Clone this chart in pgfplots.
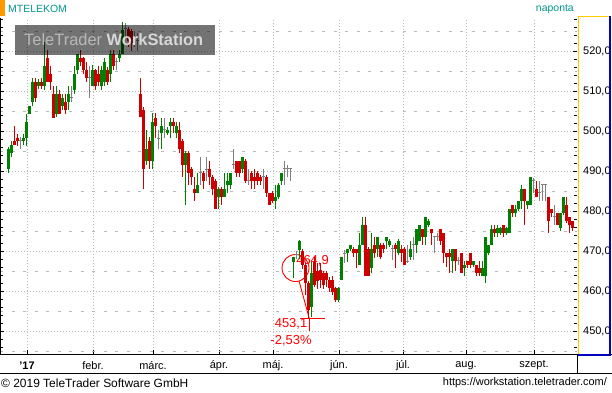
\documentclass[border=0pt]{standalone}
\usepackage{fontspec}
\setmainfont{Liberation Sans}
\usepackage{pgfplots}
\usepackage{pgfplotstable}
\pgfplotsset{compat=1.18}
\definecolor{cgreen}{RGB}{0,128,0}
\definecolor{cred}{RGB}{204,0,0}
\definecolor{cgray}{RGB}{128,128,128}
\definecolor{cteal}{RGB}{0,150,140}
\definecolor{corange}{RGB}{255,153,0}
\definecolor{cyellow}{RGB}{255,204,0}
\definecolor{cblue}{RGB}{0,0,192}
\definecolor{cgrid}{RGB}{185,185,185}
\definecolor{cannot}{RGB}{255,0,0}

% green candles: index open high low close
\pgfplotstableread{
i o h l c
1 490.4 496.1 489.6 495.5
2 494.6 497.5 493.6 496.5
6 497.5 499.25 496.5 498.2
7 498.2 504.25 496.25 502.25
8 504.25 506.25 504.25 506.25
9 507.25 513.25 506.25 512.25
11 511.25 513 510.5 512.25
13 511.25 522.25 510.25 516.25
17 504.25 511.25 503.5 509.25
19 506.25 509.25 505.25 508.25
21 507.25 511.25 505.25 509.25
23 510.25 516.25 509.25 514.25
24 515.25 519.25 514.25 519.25
29 511.25 516.5 511.25 515.25
32 511.25 516.25 510.25 515.25
33 512.25 518.25 511.25 517.25
35 514.25 520.25 512.25 519.25
38 518.25 520.25 517.25 519.25
39 519.25 527.25 519.25 525.25
47 492.5 500.25 491.5 495.5
49 492.5 504.4 490.6 502.3
52 499.4 503.3 495.5 501.3
54 499.4 501 499 500.25
55 501.3 503.3 498.3 502.3
57 499.4 502.3 498.3 501.3
60 491.5 495 481.5 494.5
64 484.6 489.6 484.6 486.5
71 483.6 486 480.6 485.5
73 483.6 489.6 483.6 485.5
74 486.5 489.6 484.6 487.5
75 486.5 489.6 485.5 489.6
79 490.5 493.6 489.6 493.6
90 482.6 486.5 480.6 483.6
91 483.6 487 483 486.5
92 487.6 489.6 486.5 489.6
96 467.3 468.4 463.2 468.4
98 470.25 472.75 468 472.6
102 456.1 467.3 453.6 464.4
111 457.75 461 457.2 460.8
112 462.75 468.6 462.75 468.6
114 469.4 470.5 467.3 470.5
115 470.5 471.5 470 471.5
118 466.5 474.4 466.5 471.5
119 471.5 478.6 471.5 476.5
122 465.7 474.4 464.4 470.5
124 470.5 473.6 468.6 473.6
127 472.6 473.6 470.5 473.6
128 471.5 473 471 472.6
131 469.4 473 469 472.6
135 468.4 472.6 467.75 470.5
137 471.5 475.5 469.4 475.5
138 472.6 476.5 472.6 476.5
140 473.6 478.6 471.5 478.6
141 476.5 478 476 477.5
149 467.6 470.5 464.6 470.5
153 465.7 467.6 463.75 466.5
156 466.5 467.6 466 467.6
159 463.75 467.6 463.75 465.7
160 463.75 473.6 462 473.6
161 469.4 471.5 469 471.5
162 471.5 476.5 471.5 475.5
164 474.4 476.5 473.6 475.7
165 474.4 476 474 475.7
167 474.4 476 474 475.7
168 474.4 480.5 474.4 480.5
170 479.4 481.5 478.6 480.5
171 480.5 482.5 480 482.5
172 482.5 486.5 480.5 485.5
174 481.5 482.5 480.5 482.5
175 481.5 488.6 481.5 488.6
185 475.7 479.4 475 479.4
186 479.4 483.6 479 483.6
}\greentab

% red candles
\pgfplotstableread{
i o h l c
3 497.6 501.25 496.5 496.5
4 498.2 499.25 496.25 497.5
10 512.25 513.25 507.25 508.25
12 512.25 513.25 510.5 511.25
14 518.25 520.25 512.25 512.25
15 514.25 516.25 510.25 512.25
16 509.25 511.25 503.25 503.25
18 509.25 510.25 504.25 504.25
20 507.25 509.25 504.25 505.25
25 518.25 520.25 516.25 517.25
26 518.25 518.5 514.25 515.25
27 515.25 517.25 512.25 513.25
30 515.25 515.5 510.25 511.25
31 514.25 516.25 511.25 512.25
34 515.25 516 511.5 512.25
36 519.25 520.25 515.25 516.25
41 525.5 526 521 522.5
42 525 525.5 520 522
45 509.25 513.25 503.4 503.4
46 505.25 506 485.6 490.6
48 497.5 498.5 490.6 492.5
50 503.3 504.4 498.2 501.3
56 502.3 503.3 499.4 501.3
58 500.25 502.3 494.5 495.5
59 497.5 498 488.6 491.5
61 494.5 495 486.5 489.6
62 490.5 491 486.5 488.6
63 485.5 488.6 482.6 484.6
66 489.6 490 485.5 487.6
68 490.5 492.5 486.5 488.6
69 488.6 489 484 485.5
70 487.6 488 480.6 480.6
72 485.5 486 481.5 483.6
77 492.5 492.5 488.6 489.6
78 492.5 492.5 488.6 489.6
80 492.5 493 487 487.6
82 489.6 490 485.5 487.6
83 488.6 490.5 485.5 487.6
84 489.6 490 486.5 487.6
85 488.6 489 486.5 487.6
87 488.6 489 483.6 484.6
88 484.6 484.6 481.5 481.5
89 484.6 485 482 482.6
99 470 470.5 465.5 466.5
100 466.5 467 459 461.9
101 461.9 462.5 453.1 455.25
103 467.3 468.6 461 461.5
104 465 467 460.5 462.5
105 465.25 467 460.7 462.75
106 464.4 465 460.5 461.5
107 464.4 465 461 462.75
108 462.75 463.5 459.8 460.7
109 462.75 463.75 459 459.8
110 460.8 461 457.2 457.75
116 470.5 471 468.6 469.4
117 470.5 470.5 465.7 469.4
120 476.5 478.6 463.75 463.75
121 470.5 471 463.75 463.75
123 471.5 473.6 468.2 469.4
125 471.5 472 468 468.6
126 471.5 472 469.4 470.5
130 471.5 472 465.7 470.5
132 470.5 471.5 467.3 469.4
133 470.5 471 466.5 466.5
139 475.5 475.5 471.5 473.6
142 475.5 475.5 471.5 474.4
145 475.5 475.5 471.5 472.6
146 474.4 474.4 466.9 469.4
147 469.4 469.4 466.1 468.6
148 469.4 470.5 464.6 468.6
150 470.5 470.5 464.9 467.6
152 469.4 469.4 464.4 464.6
154 467.6 467.6 465.7 466.5
155 469.4 469.4 465.7 466.5
157 466.5 466.5 463.75 464.6
158 465.7 467.6 463.75 464.6
163 475.5 476.5 473.6 474.4
166 476.5 476.5 473.6 474.4
169 481.5 481.5 478.6 479.4
173 485.5 485.5 476.5 482.5
177 485.5 487.5 483.6 483.6
181 483.6 483.6 474.6 477.6
182 480.5 480.5 478.6 479.4
184 479.4 479.4 476.5 476.5
187 481.5 483.6 477 477.6
188 478.6 478.6 474.6 476.5
189 477.6 477.6 475 475.7
}\redtab

% unchanged (doji) candles: index value high low
\pgfplotstableread{
i v h l
5 497.5 498.6 495.5
22 508.25 511.25 507.25
28 513.25 516.25 508.25
37 517.25 518.25 515.25
40 525.5 527 523.5
43 523 525 521
44 522.5 524.5 520
51 498.2 500.25 495.5
53 500.25 503.3 498.3
65 489.6 493.6 486.5
67 490.4 493.6 487.6
76 491.5 495.5 490.5
81 487.6 490.5 486.5
86 488.6 490.5 485.5
93 490.5 492.5 486.5
94 490.5 491.5 488.6
95 490.5 490.5 487.6
97 469.2 470 468
113 469.4 470.25 467
129 470.5 471.5 467.75
134 467.3 471.5 467
136 471.5 473.6 467.75
143 473.6 473.6 469.4
144 473.6 474.4 472.6
151 467.6 468.5 466.5
176 487.5 488.2 484.4
178 484.5 487.5 482.5
179 486.5 486.5 482.5
180 486.5 486.5 482.5
183 478.6 481.5 476.5
}\dojitab

\begin{document}
\begin{tikzpicture}[x=1bp,y=1bp]
\fill[white] (0,0) rectangle (612,392);
\path[use as bounding box] (0,0) rectangle (612,392);
% header
\fill[corange] (0,376) rectangle (5,392);
\node[anchor=west, inner sep=0pt, text=cteal, font=\fontsize{10.5}{12}\selectfont] at (8,383) {MTELEKOM};
\node[anchor=east, inner sep=0pt, text=cteal, font=\fontsize{10.5}{12}\selectfont] at (574,383) {naponta};
% annotation (below the candles)
\draw[cannot, line width=0.9bp] (295.5,124) circle (13.5);
\draw[cannot, line width=0.9bp] (299.05,110.97) -- (309.3,73.4);
\draw[cannot, line width=0.9bp] (300,73.4) -- (325,73.4);
\draw[cannot, line width=0.9bp] (309.3,73.4) -- (309.3,61);
\node[text=cannot, inner sep=0pt, font=\fontsize{13}{15}\selectfont] at (312.5,130.7) {464,9};
\node[text=cannot, inner sep=0pt, font=\fontsize{13}{15}\selectfont] at (291,68) {453,1};
\node[text=cannot, inner sep=0pt, font=\fontsize{13}{15}\selectfont] at (291,50.7) {-2,53\%};
\begin{axis}[
  at={(0bp,374bp)}, anchor=north west,
  scale only axis, width=577bp, height=336bp,
  xmin=-1.7667, xmax=190.5667,
  ymin=444.25, ymax=528.25,
  axis line style={draw=none},
  xtick={7.233,29.233,49.233,71.233,89.233,111.233,132.567,153.567,176.233},
  xticklabels={\textbf{'17},febr.,márc.,ápr.,máj.,jún.,júl.,aug.,szept.},
  xtick pos=left,
  x tick label style={anchor=center, yshift=-11.5bp, font=\fontsize{11}{13}\selectfont},
  ytick={450,460,...,520},
  minor ytick={444,446,...,528},
  ytick pos=both,
  yticklabel pos=right,
  y tick label style={anchor=west, xshift=6bp, inner sep=0pt, font=\fontsize{11}{13}\selectfont},
  /pgf/number format/.cd, fixed, fixed zerofill, precision=1, use comma, 1000 sep={},
  assume math mode=true,
  /pgfplots/.cd,
  tick align=inside,
  major tick length=4bp, minor tick length=3bp,
  every tick/.style={black, line width=0.9bp},
  minor tick style={black, line width=0.9bp},
  xmajorgrids=true, ymajorgrids=true,
  major grid style={cgrid, line width=0.8bp, dash pattern=on 1bp off 2bp},
  extra y ticks={445,455,...,525},
  extra y tick labels={},
  extra y tick style={major tick length=0pt, ymajorgrids=true,
     major grid style={cgrid, line width=0.8bp, dash pattern=on 3bp off 8.5bp}},
]
% wicks
\addplot[draw=none, mark=none, forget plot, error bars/.cd, y dir=plus, y explicit, error mark=none,
  error bar style={draw=cgreen, line width=1bp, solid}]
  table[x=i, y=l, y error expr=\thisrow{h}-\thisrow{l}] {\greentab};
\addplot[draw=none, mark=none, forget plot, error bars/.cd, y dir=plus, y explicit, error mark=none,
  error bar style={draw=cred, line width=1bp, solid}]
  table[x=i, y=l, y error expr=\thisrow{h}-\thisrow{l}] {\redtab};
\addplot[draw=none, mark=none, forget plot, error bars/.cd, y dir=plus, y explicit, error mark=none,
  error bar style={draw=cgray, line width=1bp, solid}]
  table[x=i, y=l, y error expr=\thisrow{h}-\thisrow{l}] {\dojitab};
% bodies
\addplot[draw=none, mark=none, forget plot, error bars/.cd, y dir=plus, y explicit, error mark=none,
  error bar style={draw=cgreen, line width=3bp, solid}]
  table[x=i, y=o, y error expr=\thisrow{c}-\thisrow{o}] {\greentab};
\addplot[draw=none, mark=none, forget plot, error bars/.cd, y dir=plus, y explicit, error mark=none,
  error bar style={draw=cred, line width=3bp, solid}]
  table[x=i, y=c, y error expr=\thisrow{o}-\thisrow{c}] {\redtab};
\addplot[only marks, mark=-, mark size=1.6bp, cgray, mark options={line width=1bp, solid}, forget plot]
  table[x=i, y=v] {\dojitab};
\end{axis}
% frame lines
\draw[black, line width=1.6bp] (0,37.5) -- (612,37.5);
\draw[black, line width=1bp] (0,18.5) -- (612,18.5);
\draw[black, line width=1bp] (577.5,18.5) -- (577.5,37.5);
\draw[black, line width=1bp] (0.5,38) -- (0.5,374);
\draw[cyellow, line width=1bp] (578,38) -- (578,375.5) -- (609,375.5);
\draw[cblue, line width=2bp] (610,375.5) -- (610,37.5) -- (578,37.5);
% watermark
\fill[black, opacity=0.55] (15,337) rectangle (215,367);
\node[anchor=west, inner sep=0pt, font=\fontsize{16.5}{18}\selectfont] at (24,352)
  {\textcolor[RGB]{185,185,185}{TeleTrader} \textcolor[RGB]{215,215,215}{\bfseries WorkStation}};
% footer
\node[anchor=west, inner sep=0pt, font=\fontsize{12}{14}\selectfont] at (1,9) {© 2019 TeleTrader Software GmbH};
\node[anchor=east, inner sep=0pt, font=\fontsize{11}{13}\selectfont] at (607,9) {https://workstation.teletrader.com/};
\end{tikzpicture}
\end{document}
